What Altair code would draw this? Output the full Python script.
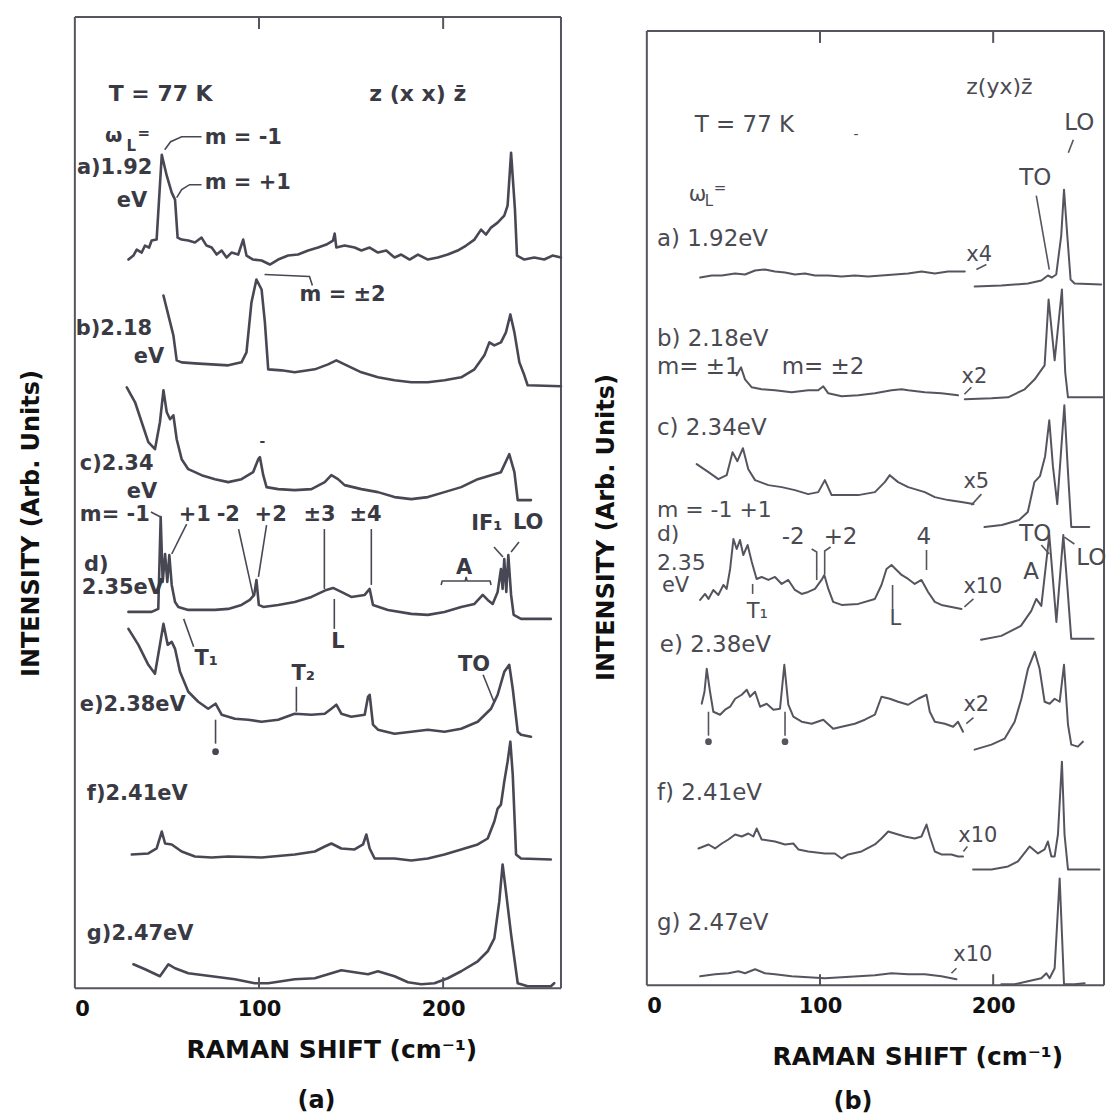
import altair as alt
import pandas as pd

FONT = "DejaVu Sans"
X_MAX = 264
FRAME = "#55555f"

# ---------------- panel (a): z(xx)z-bar ----------------
pa_a_x = [29.1,31.8,33.6,36.3,38.1,40.3,41.7,44.4,47.2,49.9,52.6,54.4,55.8,58.0,61.6,65.2,68.8,71.5,74.3,77.0,79.7,82.4,85.1,88.7,91.4,93.2,96.8,101.4,105.9,110.4,115.8,121.2,126.7,132.1,136.6,140.2,141.1,142.0,146.5,151.9,155.6,160.1,164.6,169.1,173.6,177.2,181.8,186.3,191.7,197.1,202.5,207.9,212.5,217.0,220.6,223.3,226.0,229.6,233.2,235.0,236.9,239.0,240.1,244.1,249.5,254.9,259.4,264.0]
pa_a_y = [730,734,740,737,744,742,749,750,835,814,797,790,752,750,749,747,752,744,742,735,739,732,737,735,750,734,730,729,725,730,734,735,739,742,745,749,756,742,744,742,739,742,737,739,732,735,730,735,730,732,735,739,744,750,760,755,762,767,774,784,837,780,734,730,732,730,734,732]

pa_b_x = [48.1,50.8,53.5,55.3,58.0,65.2,74.3,83.3,90.5,93.2,95.9,98.6,101.4,103.2,105.0,112.2,119.4,130.3,137.5,142.0,146.5,155.6,164.6,173.6,182.7,191.7,200.7,209.8,217.0,222.4,225.1,227.8,231.4,234.1,236.5,238.7,241.4,244.1,245.9,264.0]
pa_b_y = [694,674,654,629,627,626,625,624,627,637,687,710,700,667,620,619,617,620,625,629,625,617,612,609,607,607,609,612,620,634,647,644,647,657,675,657,627,614,604,603]

pa_c_x = [28.2,32.7,36.3,39.9,43.5,46.2,48.1,49.9,51.7,53.5,55.3,58.0,61.6,68.8,76.1,83.3,90.5,96.8,99.6,100.5,102.3,104.1,110.4,119.4,128.5,135.7,139.3,142.9,146.5,155.6,164.6,173.6,182.7,191.7,200.7,209.8,218.8,226.0,231.4,235.9,238.7,240.5,247.7]
pa_c_y = [602,587,567,547,540,567,599,577,570,574,550,530,520,514,510,507,510,517,530,532,514,502,500,499,500,507,514,510,504,500,497,492,490,492,497,502,510,514,517,535,517,489,489]

pa_d_x = [29.1,41.7,45.3,46.6,47.7,49.0,50.2,51.3,52.6,54.4,56.2,61.6,68.8,76.1,83.3,90.5,95.0,97.4,98.6,99.9,102.3,110.4,119.4,128.5,136.6,140.2,144.7,150.1,157.4,160.1,161.9,170.0,182.7,191.7,200.7,209.8,217.0,221.5,224.2,226.9,229.6,231.4,232.3,233.2,234.3,235.4,236.9,238.3,242.3,258.5]
pa_d_y = [377,377,380,472,407,435,407,434,404,387,382,379,379,379,380,384,389,394,409,384,382,384,387,392,399,401,397,392,394,400,384,379,375,374,377,382,385,394,389,385,397,420,400,430,397,434,394,374,370,370]

pa_e_x = [29.1,34.5,39.9,43.5,46.2,48.1,50.4,52.6,54.4,57.1,61.6,67.0,72.4,76.4,79.7,86.9,94.1,101.4,110.4,119.4,128.5,135.7,139.3,142.0,144.7,150.1,157.4,159.2,160.1,161.9,164.6,173.6,182.7,191.7,200.7,209.8,218.8,226.0,229.6,233.2,235.9,237.8,240.5,242.3,247.7]
pa_e_y = [360,344,324,315,344,365,344,347,340,317,297,287,280,285,274,270,269,267,269,275,274,275,280,284,275,272,274,292,294,264,259,255,257,259,257,260,267,280,294,317,324,300,257,254,252]

pa_f_x = [30.9,39.9,44.4,47.2,49.0,52.6,58.0,65.2,74.3,83.3,101.4,119.4,130.3,135.7,139.3,144.7,151.9,156.5,158.3,160.1,162.8,173.6,182.7,191.7,200.7,209.8,218.8,224.2,227.8,229.6,231.4,233.2,235.0,236.5,237.8,239.6,242.3,258.5]
pa_f_y = [134,135,140,157,145,144,137,132,131,132,131,134,137,142,145,140,139,144,154,140,130,130,128,130,134,139,144,150,167,180,184,207,227,247,214,134,130,129]

pa_g_x = [31.8,38.1,46.2,50.8,54.4,61.6,74.3,86.9,97.7,105.0,119.4,130.3,137.5,144.7,151.9,159.2,164.6,173.6,180.9,188.1,195.3,202.5,209.8,218.8,224.2,227.8,230.5,232.3,234.1,236.9,240.5,245.9,258.5,260.3]
pa_g_y = [24,19,12,24,20,15,12,9,5,5,9,10,14,18,16,14,17,12,6,4,5,10,17,27,37,50,87,124,97,54,5,2,2,5]

pa_texts = ["T = 77 K", "z (x x) z\u0304", "\u03c9", "L", "=", "m = -1", "a)1.92", "eV", "m = +1",
            "m = \u00b12", "b)2.18", "eV", "c)2.34", "eV", "-", "m= -1", "+1", "-2", "+2", "\u00b13", "\u00b14",
            "IF\u2081", "LO", "A", "d)", "2.35eV", "L", "T\u2081", "T\u2082", "TO", "e)2.38eV", "f)2.41eV", "g)2.47eV"]
pa_text_x = [18.4, 159.9, 16.3, 28.0, 34.0, 70.5, 1.1, 22.8, 70.5,
             122.0, 0.5, 32.0, 2.7, 28.2, 100.3, 2.7, 56.4, 77.0, 97.6, 124.1, 149.1,
             215.2, 237.9, 207.0, 4.9, 3.8, 139.3, 65.0, 117.6, 208.1, 2.7, 6.5, 6.5]
pa_text_y = [896, 896, 854, 844, 857, 852, 822, 789, 807,
             694, 660, 632, 525, 497, 547, 474, 474, 474, 474, 474, 474,
             465, 466, 421, 424, 401, 347, 330, 315, 324, 284, 195, 54]
pa_text_size = [22, 22, 20, 15, 15, 21, 21, 21, 21,
                21, 21, 21, 21, 21, 14, 21, 21, 21, 21, 21, 21,
                21, 21, 21, 21, 21, 21, 21, 21, 21, 21, 21, 21]

pa_leaders = {
    "m-1": ([48.8, 52.0, 58.0, 68.8], [840, 848, 853, 853]),
    "m+1": ([55.3, 58.0, 62.3, 68.8], [792, 800, 805, 805]),
    "m2": ([103.0, 127.4, 129.0], [715, 713, 704]),
    "d-1": ([41.3, 46.6], [477, 472]),
    "d+1": ([60.7, 52.6], [465, 435]),
    "d-2": ([88.9, 97.0], [460, 392]),
    "d+2": ([104.1, 99.7], [464, 412]),
    "d3": ([135.5, 135.5], [460, 400]),
    "d4": ([161.0, 161.0], [460, 404]),
    "IF": ([227.6, 232.5], [442, 432]),
    "LO": ([241.2, 236.9], [447, 437]),
    "Abr": ([198.9, 199.5, 212.0, 212.5, 213.0, 225.5, 226.0], [404, 408, 408, 412, 408, 408, 404]),
    "L": ([140.9, 140.9], [360, 390]),
    "T1": ([64.5, 59.1], [342, 370]),
    "T2": ([120.3, 120.3], [302, 277]),
    "TO": ([221.7, 227.6], [314, 287]),
    "star": ([76.4, 76.4], [269, 245]),
}
pa_dots_x = [76.4]
pa_dots_y = [237]

# ---------------- panel (b): z(yx)z-bar ----------------
pb_a_l_x = [30.8,37.5,43.3,50.9,56.7,62.5,68.2,74.0,79.8,85.5,91.3,97.1,104.8,112.5,120.1,127.8,135.5,143.2,150.9,158.6,166.3,173.9,183.6]
pb_a_l_y = [709,711,711,713,712,716,717,715,714,712,713,711,711,710,711,710,711,712,713,715,713,715,715]
pb_a_r_x = [189.3,204.7,220.1,227.8,231.6,233.9,236.4,239.3,240.9,242.8,244.7,247.0,262.4]
pb_a_r_y = [700,701,703,706,711,709,712,751,797,751,707,703,702]

pb_b_l_x = [51.9,54.4,56.7,60.6,66.3,74.0,83.6,93.2,99.0,101.9,104.8,112.5,122.1,131.7,141.3,147.1,150.9,160.5,170.1,179.7]
pb_b_l_y = [611,619,607,599,597,596,594,596,596,600,593,590,591,593,596,597,596,594,593,591]
pb_b_r_x = [183.6,199.0,208.6,218.2,224.0,226.8,229.7,232.0,235.5,239.7,241.6,243.2,264.0]
pb_b_r_y = [587,588,589,597,607,614,621,687,626,697,614,589,589]

pb_c_l_x = [28.8,35.6,41.3,46.1,49.5,52.3,55.5,58.6,62.5,70.2,77.9,85.5,93.2,99.0,102.8,106.7,112.5,122.1,131.7,137.4,140.3,145.1,150.9,160.5,166.3,174.0,181.7,188.6]
pb_c_l_y = [522,514,507,511,534,525,538,517,506,501,499,496,492,494,506,491,491,491,494,504,511,504,499,494,489,486,484,482]
pb_c_r_x = [195.0,205.0,215.0,220.0,223.8,227.0,230.0,232.4,234.5,237.0,239.0,241.1,243.0,245.1,255.5]
pb_c_r_y = [459,461,466,474,504,510,530,566,520,482,530,581,520,459,459]

pb_d_l_x = [30.8,33.6,35.6,38.4,41.3,44.2,46.1,48.1,50.0,51.9,53.8,55.7,58.2,60.6,63.4,66.3,70.2,74.0,77.9,81.7,85.5,89.4,93.2,97.1,100.9,102.5,104.8,107.6,112.5,122.1,131.7,135.5,138.4,141.3,144.2,147.1,150.9,154.7,158.6,162.4,166.3,170.1,175.9,181.7]
pb_d_l_y = [386,392,387,396,391,401,397,417,447,437,446,431,441,424,407,409,406,409,402,406,396,392,394,397,406,411,397,384,381,382,387,401,417,421,416,411,407,402,406,394,384,381,379,377]
pb_d_r_x = [193.0,204.7,216.0,222.0,224.9,227.8,232.4,236.5,240.5,242.8,245.1,258.0]
pb_d_r_y = [346,350,360,375,387,380,451,364,451,400,347,347]

pb_e_l_x = [31.7,33.3,34.6,36.5,38.4,42.3,45.2,48.1,51.0,54.8,57.7,59.6,62.5,65.4,69.2,73.1,76.9,79.4,81.7,84.6,89.4,95.2,101.9,107.6,112.5,120.1,125.9,131.7,135.5,140.3,145.1,150.9,156.7,161.5,163.4,166.3,172.1,176.9,179.7,182.6]
pb_e_l_y = [282,294,317,294,274,271,276,279,287,291,296,289,294,279,282,276,277,321,281,269,264,262,266,257,259,262,266,271,289,287,284,281,287,291,274,264,262,259,264,254]
pb_e_r_x = [189.3,199.0,206.6,212.4,216.3,220.1,224.0,226.8,229.7,232.6,235.5,238.4,240.9,243.2,245.1,248.9,251.8]
pb_e_r_y = [236,241,247,264,287,317,334,317,284,282,287,284,321,261,241,239,244]

pb_f_l_x = [29.8,35.6,39.4,43.3,47.1,51.0,54.8,58.6,61.5,63.4,66.3,74.0,79.8,84.6,87.5,93.2,102.8,108.6,112.5,116.3,124.0,131.7,135.5,139.4,143.2,149.0,154.7,158.6,161.5,163.4,166.3,170.1,175.9,179.7,182.6]
pb_f_l_y = [137,141,137,142,146,151,149,152,149,157,146,144,141,142,136,134,132,132,127,131,134,141,147,154,152,149,147,149,161,149,134,131,131,129,129]
pb_f_r_x = [188.4,199.0,208.6,214.3,221.1,225.9,229.7,231.6,233.6,235.5,237.4,239.7,241.2,243.2,261.4]
pb_f_r_y = [116,116,119,124,139,132,136,144,129,129,151,224,151,116,116]

pb_g_l_x = [30.8,39.4,47.1,52.9,56.7,62.5,68.2,74.0,83.6,93.2,102.8,112.5,122.1,131.7,141.3,150.9,160.5,170.1,178.8]
pb_g_l_y = [9,11,12,14,12,16,12,11,9,8,7,8,9,10,12,11,11,9,6]
pb_g_r_x = [204.7,212.4,220.1,227.8,230.7,232.6,235.5,238.4,240.9,247.0,252.8]
pb_g_r_y = [1,1,4,7,12,7,17,107,1,1,2]

pb_texts = ["z(yx)z\u0304", "T = 77 K", "-", "LO", "TO", "\u03c9", "L", "=", "a) 1.92eV", "x4",
            "b) 2.18eV", "m= \u00b11", "m= \u00b12", "x2", "c) 2.34eV", "x5", "m = -1  +1", "d)", "2.35", "eV",
            "-2", "+2", "4", "x10", "T\u2081", "L", "TO", "A", "LO", "e) 2.38eV", "x2",
            "f) 2.41eV", "x10", "g) 2.47eV", "x10"]
pb_text_x = [184.5, 27.7, 119.4, 241.1, 215.1, 24.2, 33.4, 38.6, 5.8, 184.5,
             5.8, 5.8, 77.9, 181.7, 5.8, 182.8, 5.8, 5.8, 5.8, 8.7,
             77.9, 102.1, 155.7, 182.8, 57.7, 140.1, 215.1, 217.4, 248.0, 7.5, 182.8,
             5.8, 179.9, 5.8, 177.0]
pb_text_y = [900, 862, 852, 864, 809, 792, 786, 799, 748, 732,
             647, 619, 619, 609, 558, 504, 476, 452, 423, 400,
             449, 449, 449, 399, 374, 367, 452, 414, 428, 341, 281,
             193, 149, 62, 30]
pb_text_size = [22, 23, 14, 23, 23, 21, 15, 15, 23, 21,
                23, 23, 23, 21, 23, 21, 22, 22, 22, 21,
                23, 23, 23, 21, 21, 21, 23, 23, 23, 23, 21,
                23, 21, 23, 21]

pb_leaders = {
    "LOtop": ([246.3, 243.4], [847, 834]),
    "TOtop": ([224.9, 232.4], [791, 717]),
    "x4": ([190.3, 196.1], [717, 722]),
    "x2b": ([183.4, 187.4], [592, 599]),
    "x5": ([187.4, 193.2], [481, 492]),
    "d-2": ([95.2, 98.1, 98.1], [437, 434, 406]),
    "d+2": ([106.1, 102.7, 102.7], [439, 435, 412]),
    "d4": ([161.5, 161.5], [436, 416]),
    "x10d": ([183.4, 188.6], [379, 387]),
    "T1": ([61.1, 61.1], [392, 402]),
    "L": ([141.9, 141.9], [377, 401]),
    "TOd": ([227.8, 232.4], [441, 432]),
    "LOd": ([241.1, 246.9], [449, 442]),
    "x2e": ([184.5, 188.6], [262, 268]),
    "star1": ([35.6, 35.6], [274, 250]),
    "star2": ([79.8, 79.8], [274, 250]),
    "x10f": ([182.8, 185.1], [134, 139]),
    "x10g": ([175.9, 178.8], [12, 17]),
}
pb_dots_x = [35.6, 79.8]
pb_dots_y = [244, 244]

tick_values = [100, 200]
caption_a = ("(a)", 120.9, -113)
caption_b = ("(b)", 107.8, -117)


def series_df(series):
    rows = []
    for name, (xs, ys) in series.items():
        assert len(xs) == len(ys), name
        for i, (x, y) in enumerate(zip(xs, ys)):
            rows.append({"seg": name, "i": i, "x": x, "y": y})
    return pd.DataFrame(rows)


def panel(spec, leaders, texts, tx, ty, tsize, dots_x, dots_y, caption, frame_top, ymax, width, height,
          line_color, line_w, text_color, text_weight, ytx, yty, xtx, xty):
    xs = alt.Scale(domain=[0, X_MAX], nice=False, zero=False)
    ys = alt.Scale(domain=[0, ymax], nice=False, zero=False)
    xax = alt.Axis(values=[0, 100, 200], format="d", labelFlush=True, labelFontSize=21,
                   labelFontWeight="bold", labelColor="#111111", labelFont=FONT, labelPadding=10,
                   ticks=False, domain=False, grid=False, title="RAMAN SHIFT (cm\u207b\u00b9)",
                   titleFont=FONT, titleFontSize=25, titleFontWeight="bold", titleColor="#111111",
                   titleX=xtx, titleY=xty, titleAlign="center", titleBaseline="middle")
    yax = alt.Axis(labels=False, ticks=False, domain=False, grid=False,
                   title="INTENSITY (Arb. Units)", titleFont=FONT, titleFontSize=24,
                   titleFontWeight="bold", titleColor="#111111", titleX=ytx, titleY=yty,
                   titleAngle=270, titleAlign="center", titleBaseline="middle")
    X = alt.X("x:Q", scale=xs, axis=xax)
    Y = alt.Y("y:Q", scale=ys, axis=yax)

    # frame box drawn in data coordinates
    frame_df = pd.DataFrame({
        "x": [0, 0, 0, X_MAX], "x2": [X_MAX, X_MAX, 0, X_MAX],
        "y": [0, frame_top, 0, 0], "y2": [0, frame_top, frame_top, frame_top],
    })
    frame = alt.Chart(frame_df).mark_rule(color=FRAME, strokeWidth=2).encode(
        x=X, x2="x2:Q", y=Y, y2="y2:Q")

    lines = alt.Chart(series_df(spec)).mark_line(
        color=line_color, strokeWidth=line_w, strokeJoin="round", strokeCap="round"
    ).encode(x=X, y=Y, detail="seg:N", order="i:Q")

    lead = alt.Chart(series_df(leaders)).mark_line(
        color=line_color, strokeWidth=1.6
    ).encode(x=X, y=Y, detail="seg:N", order="i:Q")

    tick_rows = []
    for v in tick_values:
        tick_rows.append({"x": v, "y": 0, "y2": 11})
        tick_rows.append({"x": v, "y": frame_top, "y2": frame_top - 12})
    tks = alt.Chart(pd.DataFrame(tick_rows)).mark_rule(color=FRAME, strokeWidth=2).encode(
        x=X, y=Y, y2="y2:Q")

    ann = pd.DataFrame({"text": texts, "x": tx, "y": ty, "size": tsize})
    txt = alt.Chart(ann).mark_text(
        align="left", baseline="middle", font=FONT, fontWeight=text_weight, color=text_color
    ).encode(x=X, y=Y, text="text:N", size=alt.Size("size:Q", scale=None))

    dots = alt.Chart(pd.DataFrame({"x": dots_x, "y": dots_y})).mark_circle(
        color=line_color, size=45, opacity=1).encode(x=X, y=Y)

    cap = alt.Chart(pd.DataFrame({"text": [caption[0]], "x": [caption[1]], "y": [caption[2]]})).mark_text(
        align="left", baseline="middle", font=FONT, fontWeight="bold", fontSize=24, color="#111111"
    ).encode(x=X, y=Y, text="text:N")

    return alt.layer(frame, lines, lead, tks, txt, dots, cap).properties(width=width, height=height)


spec_a = {
    "a": (pa_a_x, pa_a_y), "b": (pa_b_x, pa_b_y), "c": (pa_c_x, pa_c_y), "d": (pa_d_x, pa_d_y),
    "e": (pa_e_x, pa_e_y), "f": (pa_f_x, pa_f_y), "g": (pa_g_x, pa_g_y),
}
spec_b = {
    "a1": (pb_a_l_x, pb_a_l_y), "a2": (pb_a_r_x, pb_a_r_y),
    "b1": (pb_b_l_x, pb_b_l_y), "b2": (pb_b_r_x, pb_b_r_y),
    "c1": (pb_c_l_x, pb_c_l_y), "c2": (pb_c_r_x, pb_c_r_y),
    "d1": (pb_d_l_x, pb_d_l_y), "d2": (pb_d_r_x, pb_d_r_y),
    "e1": (pb_e_l_x, pb_e_l_y), "e2": (pb_e_r_x, pb_e_r_y),
    "f1": (pb_f_l_x, pb_f_l_y), "f2": (pb_f_r_x, pb_f_r_y),
    "g1": (pb_g_l_x, pb_g_l_y), "g2": (pb_g_r_x, pb_g_r_y),
}

assert len(pa_texts) == len(pa_text_x) == len(pa_text_y) == len(pa_text_size)
assert len(pb_texts) == len(pb_text_x) == len(pb_text_y) == len(pb_text_size)

pa = panel(spec_a, pa_leaders, pa_texts, pa_text_x, pa_text_y, pa_text_size, pa_dots_x, pa_dots_y,
           caption_a, 973, 973, 487, 973, "#484855", 2.6, "#3a3a44", "bold", -43, 507, 257, 61)
pb = panel(spec_b, pb_leaders, pb_texts, pb_text_x, pb_text_y, pb_text_size, pb_dots_x, pb_dots_y,
           caption_b, 956, 970, 458, 970, "#55555f", 2.0, "#4a4a52", "normal", -40, 511, 271, 71)

chart = alt.hconcat(pa, pb, spacing=31).properties(
    padding={"left": 19, "top": 14, "right": 0, "bottom": 0}
).configure(font=FONT).configure_view(stroke="transparent")

chart.save("out.html", embed_options={"renderer": "svg", "actions": False})
